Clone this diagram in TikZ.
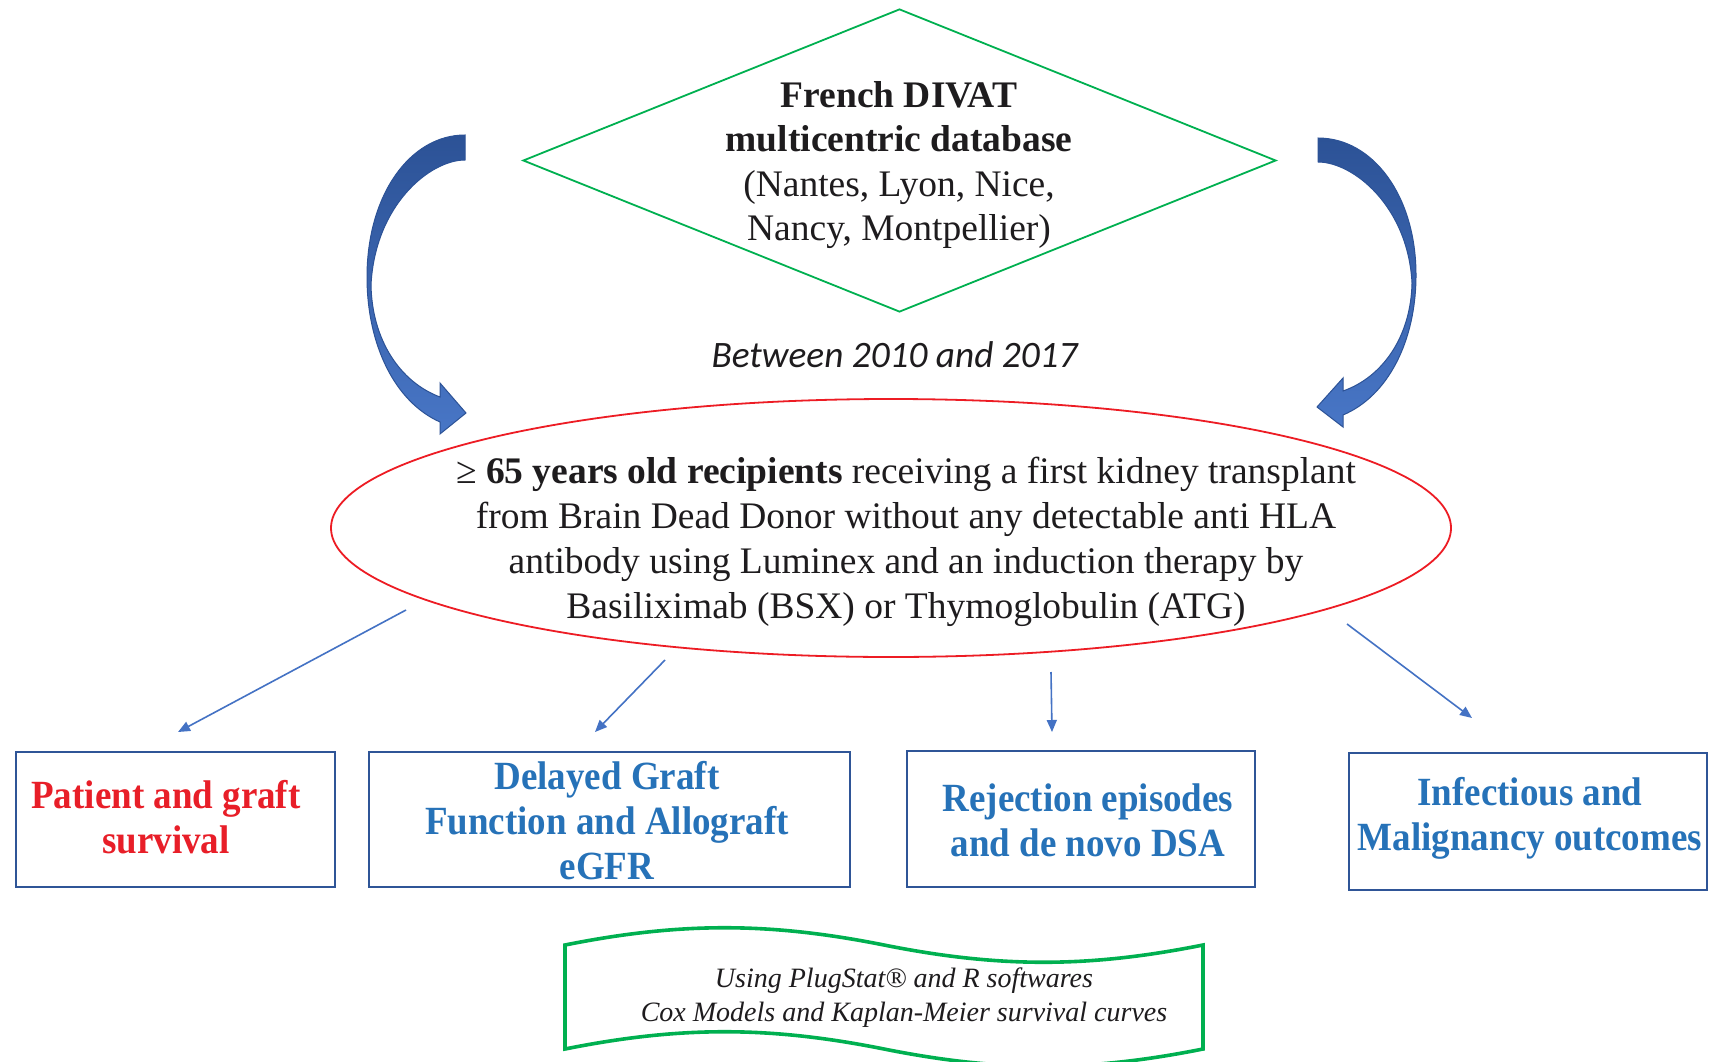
\documentclass[tikz,border=0pt]{standalone}
\usepackage{fontspec}
\setmainfont{Liberation Serif}
\newfontfamily\carl{Carlito}
\newfontfamily\cond[FakeStretch=0.925]{Liberation Serif}
\usetikzlibrary{shapes.geometric,arrows.meta}
\definecolor{dbgreen}{RGB}{0,176,80}
\definecolor{elred}{RGB}{237,28,36}
\definecolor{boxblue}{RGB}{47,85,151}
\definecolor{txtblue}{RGB}{38,114,184}
\definecolor{txtred}{RGB}{232,30,40}
\definecolor{arrblue}{RGB}{68,114,196}
\definecolor{cdark}{RGB}{44,82,150}
\definecolor{clight}{RGB}{72,118,198}
\definecolor{ink}{RGB}{30,28,30}
\tikzset{
  outbox/.style={draw=boxblue, line width=2.4pt, inner sep=0pt},
  boxtext/.style={inner sep=0pt, align=center,
    font={\cond\bfseries\fontsize{40pt}{45pt}\selectfont}, text=txtblue},
  smallarrow/.style={draw=arrblue, line width=1.6pt, -{Triangle[length=12pt,width=10pt]}},
  bigarrow/.style={draw=cdark, line width=1pt, top color=cdark, bottom color=clight},
  maintext/.style={align=center, text=ink, inner sep=0pt}
}
\begin{document}
\begin{tikzpicture}[x=1pt,y=-1pt]
\useasboundingbox (0,0) rectangle (1713,1062);
\fill[white] (0,0) rectangle (1713,1062);

% diamond
\node[diamond, draw=dbgreen, line width=1.8pt, minimum width=753pt, minimum height=303pt, inner sep=0pt] (db) at (899.5,160.5) {};
\node[maintext, font={\fontsize{37.5pt}{44.5pt}\selectfont}] (dbtext) at (899,165)
  {\textbf{French DIVAT}\\ \textbf{multicentric database}\\ (Nantes, Lyon, Nice,\\ Nancy, Montpellier)};

% period
\node[anchor=base, text=ink, inner sep=0pt, font={\carl\itshape\fontsize{37.3pt}{44pt}\selectfont}] (period) at (894.5,367) {Between 2010 and 2017};

% ellipse
\node[ellipse, draw=elred, line width=1.8pt, minimum width=1120pt, minimum height=258pt, inner sep=0pt] (el) at (891,528) {};
\node[maintext, font={\fontsize{37.5pt}{45pt}\selectfont}] (eltext) at (906,542)
  {≥ \textbf{65 years old recipients} receiving a first kidney transplant\\
   from Brain Dead Donor without any detectable anti HLA\\
   antibody using Luminex and an induction therapy by\\
   Basiliximab (BSX) or Thymoglobulin (ATG)};

% curved arrows
\path[bigarrow] (465,135) .. controls (410,135) and (367,195) .. (367,277)
  .. controls (367,345) and (395,402) .. (440,422) -- (440,434) -- (466,413) -- (440,383) -- (440,397)
  .. controls (400,382) and (372,340) .. (371,285)
  .. controls (375,205) and (430,160) .. (465,160) -- cycle;
\path[bigarrow] (1318,138) .. controls (1373,138) and (1416,196) .. (1416,275)
  .. controls (1416,341) and (1388,396) .. (1343,415) -- (1343,427) -- (1317,407) -- (1343,378) -- (1343,391)
  .. controls (1383,377) and (1411,336) .. (1412,283)
  .. controls (1408,206) and (1353,162) .. (1318,162) -- cycle;

% outcome boxes
\node[outbox, minimum width=319pt, minimum height=135pt] (b1) at (175.5,819.5) {};
\node[outbox, minimum width=481pt, minimum height=135pt] (b2) at (609.5,819.5) {};
\node[outbox, minimum width=348pt, minimum height=136pt] (b3) at (1081,819) {};
\node[outbox, minimum width=358pt, minimum height=137pt] (b4) at (1528,821.5) {};
\node[boxtext, text=txtred] (t1) at (166,817) {Patient and graft\\ survival};
\node[boxtext] (t2) at (607,820.5) {Delayed Graft\\ Function and Allograft\\ eGFR};
\node[boxtext] (t3) at (1088,820) {Rejection episodes\\ and de novo DSA};
\node[boxtext] (t4) at (1530,818.5) {Infectious and\\ Malignancy outcomes};

% small arrows
\coordinate (s1) at (406,610); \coordinate (e1) at (178,732);
\coordinate (s2) at (665,660); \coordinate (e2) at (595,732);
\coordinate (s3) at (1051,672); \coordinate (e3) at (1052,732);
\coordinate (s4) at (1347,624); \coordinate (e4) at (1472,718);
\draw[smallarrow] (s1) -- (e1);
\draw[smallarrow] (s2) -- (e2);
\draw[smallarrow] (s3) -- (e3);
\draw[smallarrow] (s4) -- (e4);

% wave box
\draw[draw=dbgreen, line width=3.6pt, line join=miter] (565,945) .. controls (680,922) and (769,922) .. (884,945)
  .. controls (999,968) and (1088,968) .. (1203,945) -- (1203,1049)
  .. controls (1088,1072) and (999,1072) .. (884,1049)
  .. controls (769,1026) and (680,1026) .. (565,1049) -- cycle;
\node[maintext, font={\itshape\fontsize{28pt}{34pt}\selectfont}] (tools) at (904,998)
  {Using PlugStat® and R softwares\\ Cox Models and Kaplan-Meier survival curves};
\end{tikzpicture}
\end{document}
